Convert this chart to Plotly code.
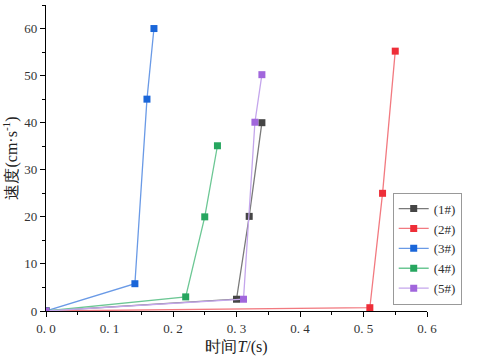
import plotly.graph_objects as go

names = ["(1#)", "(2#)", "(3#)", "(4#)", "(5#)"]
t1 = [0, 0.30, 0.32, 0.34]; v1 = [0, 2.5, 20.1, 40.0]
t2 = [0, 0.51, 0.53, 0.55]; v2 = [0, 0.7, 25.0, 55.2]
t3 = [0, 0.14, 0.159, 0.17]; v3 = [0, 5.8, 45.0, 60.0]
t4 = [0, 0.22, 0.25, 0.27]; v4 = [0, 3.0, 20.0, 35.1]
t5 = [0, 0.311, 0.329, 0.34]; v5 = [0, 2.5, 40.1, 50.2]
xticks = [0, 0.1, 0.2, 0.3, 0.4, 0.5, 0.6]
xticktext = ["0. 0", "0. 1", "0. 2", "0. 3", "0. 4", "0. 5", "0. 6"]
yticks = [0, 10, 20, 30, 40, 50, 60]

marker_colors = ["#454545", "#ee2e38", "#1a66d9", "#26a65f", "#a166dc"]
line_colors = ["#7a7a7a", "#f27a80", "#6a9ae6", "#6cc794", "#c4a6ec"]

series = [(t1, v1), (t2, v2), (t3, v3), (t4, v4), (t5, v5)]

fig = go.Figure()
for (t, v), n, mc, lc in zip(series, names, marker_colors, line_colors):
    fig.add_trace(go.Scatter(
        x=t, y=v, name=n, mode="lines+markers",
        line=dict(color=lc, width=1.3),
        marker=dict(symbol="square", size=7, color=mc, line=dict(width=0)),
    ))

font_family = "Liberation Serif"
fig.update_layout(
    width=477, height=359,
    margin=dict(l=46, r=50, t=5, b=48),
    paper_bgcolor="white", plot_bgcolor="white",
    font=dict(family=font_family, size=13, color="#333"),
    showlegend=True,
    legend=dict(
        x=0.91, y=0.387, xanchor="left", yanchor="top",
        bordercolor="#999", borderwidth=1, bgcolor="white",
        font=dict(size=13, family=font_family, color="#333"),
        tracegroupgap=0, itemwidth=30,
    ),
    xaxis=dict(
        range=[0, 0.6], tickvals=xticks, ticktext=xticktext,
        showgrid=False, zeroline=False, showline=True, linecolor="black", linewidth=1.2,
        ticks="outside", ticklen=5, tickcolor="black",
        tickfont=dict(size=13, family=font_family, color="#333"),
        minor=dict(dtick=0.05, ticks="outside", ticklen=3, tickcolor="black", showgrid=False),
        title=dict(text="时间<i>T</i>/(s)", font=dict(size=16, family=font_family, color="#222"), standoff=6),
    ),
    yaxis=dict(
        range=[0, 65], tickvals=yticks,
        showgrid=False, zeroline=False, showline=True, linecolor="black", linewidth=1.2,
        ticks="outside", ticklen=5, tickcolor="black",
        tickfont=dict(size=13, family=font_family, color="#333"),
        minor=dict(dtick=5, ticks="outside", ticklen=3, tickcolor="black", showgrid=False),
        title=dict(text="速度(cm·s<sup>-1</sup>)", font=dict(size=16, family=font_family, color="#222"), standoff=4),
    ),
)

fig.write_html(
    "out.html",
    config={"displayModeBar": False},
    post_script="document.body.style.margin='0';document.body.style.overflow='hidden';",
)
